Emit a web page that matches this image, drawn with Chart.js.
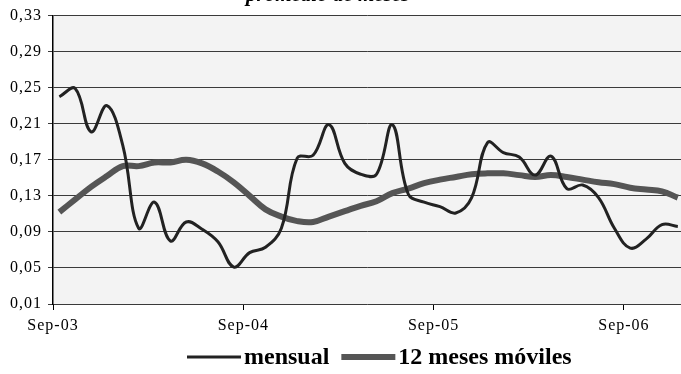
<!DOCTYPE html>
<html>
<head>
    <meta charset="utf-8">
    <title>Tasa mensual y 12 meses móviles</title>
    <script src="https://cdn.jsdelivr.net/npm/chart.js"></script>
    <style>
        html, body {
            margin: 0;
            padding: 0;
            background: #ffffff;
        }
        .chart-box {
            width: 681px;
            height: 374px;
        }
    </style>
</head>
<body>
    <div class="chart-box">
        <canvas id="tasaChart" width="681" height="374"></canvas>
    </div>

    <script>
        // Meses, de Sep-03 a Dic-06
        const meses = [
            'Sep-03', 'Oct-03', 'Nov-03', 'Dic-03', 'Ene-04', 'Feb-04', 'Mar-04', 'Abr-04', 'May-04', 'Jun-04', 'Jul-04', 'Ago-04',
            'Sep-04', 'Oct-04', 'Nov-04', 'Dic-04', 'Ene-05', 'Feb-05', 'Mar-05', 'Abr-05', 'May-05', 'Jun-05', 'Jul-05', 'Ago-05',
            'Sep-05', 'Oct-05', 'Nov-05', 'Dic-05', 'Ene-06', 'Feb-06', 'Mar-06', 'Abr-06', 'May-06', 'Jun-06', 'Jul-06', 'Ago-06',
            'Sep-06', 'Oct-06', 'Nov-06', 'Dic-06'
        ];

        const mensual = [
            0.240, 0.249, 0.201, 0.230, 0.186, 0.094, 0.123, 0.080, 0.101, 0.093, 0.079, 0.051,
            0.067, 0.073, 0.094, 0.172, 0.175, 0.209, 0.166, 0.154, 0.154, 0.209, 0.132, 0.123,
            0.118, 0.111, 0.128, 0.189, 0.178, 0.173, 0.153, 0.174, 0.138, 0.142, 0.128, 0.094,
            0.072, 0.082, 0.098, 0.096
        ];

        const movil12 = [
            0.112, 0.126, 0.140, 0.152, 0.163, 0.163, 0.167, 0.167, 0.170, 0.166, 0.157, 0.145,
            0.130, 0.115, 0.107, 0.102, 0.101, 0.107, 0.113, 0.119, 0.124, 0.133, 0.138, 0.144,
            0.148, 0.151, 0.154, 0.155, 0.155, 0.153, 0.151, 0.153, 0.151, 0.148, 0.145, 0.143,
            0.139, 0.137, 0.135, 0.128
        ];

        const yTicks = [0.01, 0.05, 0.09, 0.13, 0.17, 0.21, 0.25, 0.29, 0.33];
        const xTickLabels = ['Sep-03', 'Sep-04', 'Sep-05', 'Sep-06'];

        const serif = "'Liberation Serif', 'Times New Roman', serif";

        // months sit in the middle of their slot, Sep ticks mark the slot edge
        const slotShift = -0.4;

        const toPoints = values => values.map((v, i) => ({ x: i, y: v }));

        // grey plot area background, plus a bit of letter spacing for the axis labels
        const plotBackground = {
            id: 'plotBackground',
            beforeDraw(chart) {
                const { ctx, chartArea: a } = chart;
                ctx.save();
                ctx.fillStyle = '#f3f3f3';
                ctx.fillRect(a.left, a.top, a.right - a.left, a.bottom - a.top);
                ctx.restore();
                ctx.letterSpacing = '1px';
            },
            beforeDatasetsDraw(chart) {
                chart.ctx.letterSpacing = '0px';
            }
        };

        // title (sits mostly above the canvas) and the line legend at the bottom
        const titleAndLegend = {
            id: 'titleAndLegend',
            afterDraw(chart) {
                const ctx = chart.ctx;
                ctx.save();
                ctx.letterSpacing = '0px';
                ctx.fillStyle = '#000';
                ctx.font = `italic bold 21px ${serif}`;
                ctx.textBaseline = 'alphabetic';
                ctx.textAlign = 'left';
                ctx.fillText('promedio de meses', 246, 0.8);

                const y = 357;
                let x = 187;
                ctx.font = `bold 24px ${serif}`;
                ctx.textBaseline = 'middle';
                chart.data.datasets.forEach(ds => {
                    ctx.strokeStyle = ds.borderColor;
                    ctx.lineWidth = ds.borderWidth;
                    ctx.beginPath();
                    ctx.moveTo(x, y);
                    ctx.lineTo(x + 54, y);
                    ctx.stroke();
                    x += 57;
                    ctx.fillStyle = '#000';
                    ctx.fillText(ds.label, x, y + 1);
                    x += ctx.measureText(ds.label).width + 12;
                });
                ctx.restore();
            }
        };

        const tasaChart = new Chart(document.getElementById('tasaChart').getContext('2d'), {
            type: 'line',
            data: {
                datasets: [{
                    label: 'mensual',
                    data: toPoints(mensual),
                    borderColor: '#222222',
                    borderWidth: 3,
                    pointRadius: 0,
                    tension: 0.4,
                    fill: false
                }, {
                    label: '12 meses móviles',
                    data: toPoints(movil12),
                    borderColor: '#555555',
                    borderWidth: 6,
                    pointRadius: 0,
                    tension: 0.4,
                    fill: false
                }]
            },
            options: {
                responsive: false,
                animation: false,
                layout: {
                    padding: { top: 12, right: 0, bottom: 0, left: 0 }
                },
                plugins: {
                    legend: { display: false },
                    title: { display: false },
                    tooltip: { enabled: false }
                },
                scales: {
                    x: {
                        type: 'linear',
                        min: slotShift,
                        max: 39.2,
                        afterBuildTicks: scale => {
                            scale.ticks = xTickLabels.map((_, k) => ({ value: slotShift + 12 * k }));
                        },
                        afterFit: scale => { scale.height = 70; },
                        grid: {
                            drawOnChartArea: false,
                            drawTicks: true,
                            tickLength: 6,
                            color: '#000'
                        },
                        border: { display: false },
                        ticks: {
                            autoSkip: false,
                            maxRotation: 0,
                            padding: 6,
                            color: '#000',
                            font: { family: serif, size: 16 },
                            callback: (value, index) => xTickLabels[index]
                        }
                    },
                    y: {
                        min: 0.01,
                        max: 0.33,
                        afterBuildTicks: scale => {
                            scale.ticks = yTicks.map(v => ({ value: v }));
                        },
                        afterFit: scale => { scale.width = 53; },
                        grid: {
                            color: '#3a3a3a',
                            lineWidth: 1,
                            drawTicks: true,
                            tickLength: 5
                        },
                        border: { display: true, color: '#000', width: 1.5 },
                        ticks: {
                            padding: 6,
                            color: '#000',
                            font: { family: serif, size: 16 },
                            callback: value => value.toFixed(2).replace('.', ',')
                        }
                    }
                }
            },
            plugins: [plotBackground, titleAndLegend]
        });
    </script>
</body>
</html>
